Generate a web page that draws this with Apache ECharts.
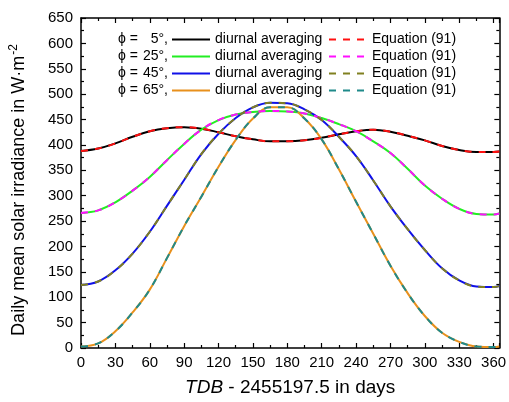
<!DOCTYPE html>
<html>
<head>
<meta charset="utf-8">
<script src="https://cdn.jsdelivr.net/npm/echarts@6/dist/echarts.min.js"></script>
<style>
html,body{margin:0;padding:0;background:#fff;}
#c{width:509px;height:402px;}
</style>
</head>
<body>
<div id="c"></div>
<script>
var days = [0,15,30,45,60,75,90,105,120,135,150,165,180,195,210,225,240,255,270,285,300,315,330,345,360,365];
var phi5  = [388,393,403,416,427,433,435,432,425,417,411,407,407,409,414,421,427,430,426,418,409,398,390,386,386,387];
var phi25 = [266,271,287,310,337,370,402,430,449,460,465,467,466,462,453,441,427,407,384,353,320,294,274,264,263,265];
var phi45 = [124,131,153,186,229,280,331,382,422,453,474,483,482,470,449,416,378,330,279,234,193,157,133,121,120,122];
var phi65 = [3,9,33,70,115,177,240,298,357,410,452,474,474,452,411,352,288,225,162,108,63,30,12,3,2,3];
var latitudes = ['5','25','45','65'];

var FONT = 'Liberation Sans, Arial, sans-serif';
var solidColors = ['#000000','#22ee22','#1010e8','#e8901c'];
var dashColors  = ['#ff1010','#ff10ff','#808020','#1f8a8a'];
var allVals = [phi5, phi25, phi45, phi65];

function pairs(vals){ return days.map(function(d,i){ return [d, vals[i]]; }); }

var series = [];
allVals.forEach(function(v, k){
  series.push({
    name: 's' + latitudes[k], type: 'line', data: pairs(v), smooth: 0.4,
    showSymbol: false, symbol: 'none', z: 2,
    lineStyle: {color: solidColors[k], width: 2, type: 'solid'},
    itemStyle: {color: solidColors[k]}
  });
});
allVals.forEach(function(v, k){
  series.push({
    name: 'e' + latitudes[k], type: 'line', data: pairs(v), smooth: 0.4,
    showSymbol: false, symbol: 'none', z: 3,
    lineStyle: {color: dashColors[k], width: 2, type: [7, 7]},
    itemStyle: {color: dashColors[k]}
  });
});

var axisCommon = {
  axisLine: {show: true, onZero: false, lineStyle: {color: '#000', width: 1.5}},
  axisTick: {show: true, inside: true, length: 5, lineStyle: {color: '#000', width: 1.2}},
  minorTick: {show: true, splitNumber: 2, length: 3, lineStyle: {color: '#000', width: 1.2}},
  splitLine: {show: false},
  minorSplitLine: {show: false}
};

function ax(extra){ return Object.assign({}, JSON.parse(JSON.stringify(axisCommon)), extra); }

var graphics = [];
latitudes.forEach(function(l, k){
  var y = 39.5 + 17 * k;
  graphics.push({type: 'text', x: 118, y: y, style: {text: '\u03D5 =', font: '14px ' + FONT, fill: '#000', verticalAlign: 'middle', align: 'left'}});
  graphics.push({type: 'text', x: 168, y: y, style: {text: l + '\u00B0,', font: '14px ' + FONT, fill: '#000', verticalAlign: 'middle', align: 'right'}});
});

var legendCommon = {
  orient: 'vertical', top: 32.5, itemWidth: 38, itemHeight: 14, itemGap: 3, padding: 0,
  selectedMode: false, itemStyle: {opacity: 0},
  textStyle: {fontSize: 14, color: '#000', fontFamily: FONT, lineHeight: 14}
};

var option = {
  animation: false,
  backgroundColor: '#fff',
  grid: {left: 72, right: 8, top: 18, bottom: 44},
  xAxis: [
    ax({type: 'value', min: 0, max: 365, interval: 30, position: 'bottom',
      name: '{i|TDB} - 2455197.5 in days', nameLocation: 'middle', nameGap: 30,
      nameTextStyle: {fontSize: 19, color: '#000', fontFamily: FONT, rich: {i: {fontSize: 19, fontStyle: 'italic', fontFamily: FONT, color: '#000'}}},
      axisLabel: {fontSize: 15, color: '#000', fontFamily: FONT, margin: 7, showMaxLabel: false, showMinLabel: true}}),
    ax({type: 'value', min: 0, max: 365, interval: 30, position: 'top', axisLabel: {show: false}})
  ],
  yAxis: [
    ax({type: 'value', min: 0, max: 650, interval: 50, position: 'left',
      name: '{a|Daily mean solar irradiance in W\u00B7m}{s|-2}', nameLocation: 'middle', nameGap: 51, nameRotate: 90,
      nameTextStyle: {fontSize: 18, color: '#000', fontFamily: FONT, padding: [0, 14, 0, 0],
        rich: {a: {fontSize: 18, fontFamily: FONT, color: '#000', lineHeight: 22},
               s: {fontSize: 12, fontFamily: FONT, color: '#000', verticalAlign: 'top', lineHeight: 22, padding: [0,0,0,1]}}},
      axisLabel: {fontSize: 15, color: '#000', fontFamily: FONT, margin: 8}}),
    ax({type: 'value', min: 0, max: 650, interval: 50, position: 'right', axisLabel: {show: false}})
  ],
  legend: [
    Object.assign({}, legendCommon, {data: ['s5','s25','s45','s65'], left: 171, formatter: function(){ return 'diurnal averaging'; }}),
    Object.assign({}, legendCommon, {data: ['e5','e25','e45','e65'], left: 328, formatter: function(){ return 'Equation (91)'; }})
  ],
  graphic: graphics,
  series: series
};

var chart = echarts.init(document.getElementById('c'), null, {renderer: 'canvas'});
chart.setOption(option);
</script>
</body>
</html>
